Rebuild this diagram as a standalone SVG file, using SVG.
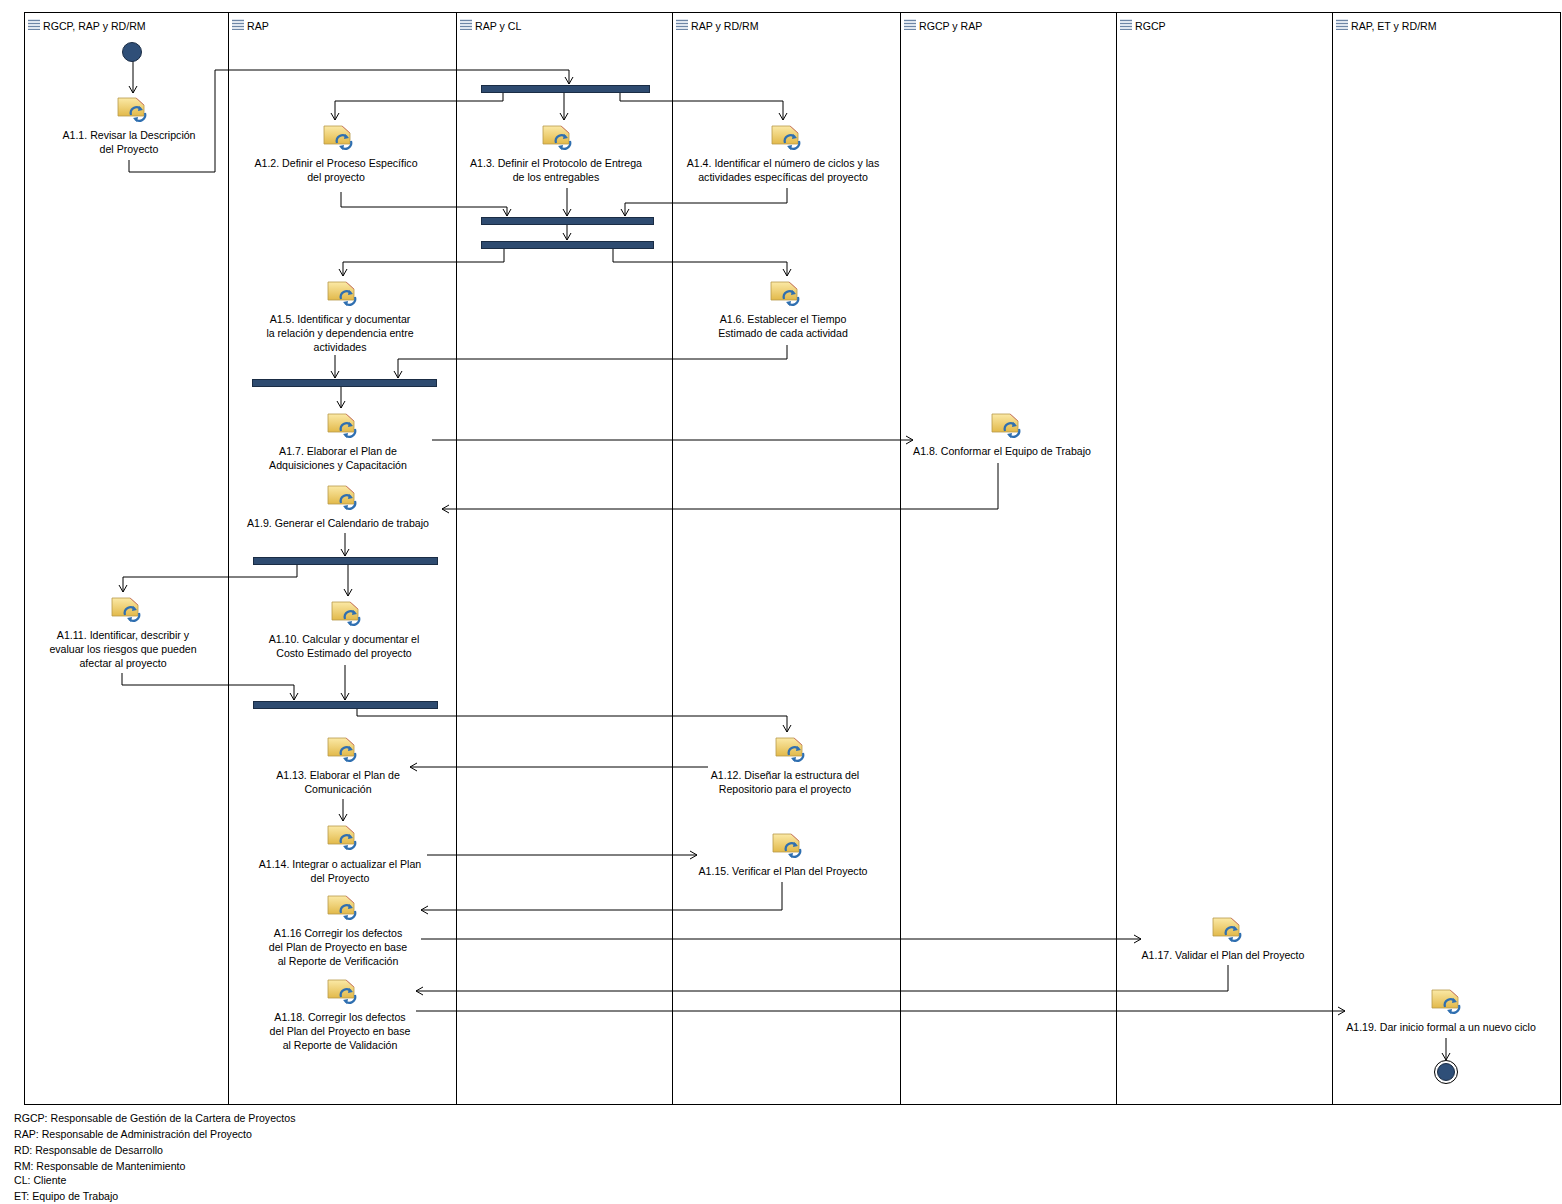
<svg xmlns="http://www.w3.org/2000/svg" width="1562" height="1204" viewBox="0 0 1562 1204">
<style>
text{font-family:"Liberation Sans",Arial,sans-serif;font-size:10.6px;fill:#000}
.t{text-anchor:middle}
.lane{fill:none;stroke:#000;stroke-width:1}
.bar{fill:#2e4b70;stroke:#1a2c44;stroke-width:1}
.c{fill:none;stroke:#000;stroke-width:1;marker-end:url(#ar)}
</style>
<defs>
<marker id="ar" markerWidth="10" markerHeight="10" refX="8" refY="5" orient="auto" markerUnits="userSpaceOnUse">
<path d="M1,1 L8,5 L1,9" fill="none" stroke="#000" stroke-width="1"/>
</marker>
<linearGradient id="fg" x1="0" y1="0" x2="0" y2="1"><stop offset="0" stop-color="#fbe9a6"/><stop offset="1" stop-color="#e2b94a"/></linearGradient>
<g id="act">
<path d="M-14,0 H4 L12,7 V18 H-14 Z" fill="url(#fg)" stroke="#b89a4a" stroke-width="0.8"/>
<path d="M4,0 L12,7" stroke="#d07070" stroke-width="0.8"/>
<path d="M-1,17 A6,6 0 0 1 9,11" fill="none" stroke="#2f6fb0" stroke-width="2.2"/>
<path d="M13,15 A6,6 0 0 1 3,21" fill="none" stroke="#2f6fb0" stroke-width="2.2"/>
<path d="M7,8 L11,12 L6,13 Z" fill="#2f6fb0"/>
<path d="M5,24 L1,20 L6,19 Z" fill="#2f6fb0"/>
</g>
<g id="hi">
<rect x="0" y="0" width="12" height="11" fill="#dfe6ef"/>
<path d="M0,1.5H12M0,4.5H12M0,7.5H12M0,10.5H12" stroke="#6d86a6" stroke-width="1"/>
</g>
</defs>
<rect width="1562" height="1204" fill="#fff"/>
<g id="lanes">
<rect class="lane" x="24.5" y="12.5" width="1536" height="1092"/>
<path class="lane" d="M228.5,12V1104M456.5,12V1104M672.5,12V1104M900.5,12V1104M1116.5,12V1104M1332.5,12V1104"/>
<use href="#hi" x="28" y="19"/><text x="43" y="30">RGCP, RAP y RD/RM</text>
<use href="#hi" x="232" y="19"/><text x="247" y="30">RAP</text>
<use href="#hi" x="460" y="19"/><text x="475" y="30">RAP y CL</text>
<use href="#hi" x="676" y="19"/><text x="691" y="30">RAP y RD/RM</text>
<use href="#hi" x="904" y="19"/><text x="919" y="30">RGCP y RAP</text>
<use href="#hi" x="1120" y="19"/><text x="1135" y="30">RGCP</text>
<use href="#hi" x="1336" y="19"/><text x="1351" y="30">RAP, ET y RD/RM</text>
</g>
<g id="connectors">
<path class="c" d="M133,61V93"/>
<path class="c" d="M129,160V172H215V70H569V84"/>
<path class="c" d="M503,92V101H335V120"/>
<path class="c" d="M564,92V120"/>
<path class="c" d="M620,92V101H783V120"/>
<path class="c" d="M341,192V207H507V216"/>
<path class="c" d="M567,188V216"/>
<path class="c" d="M787,188V203H625V216"/>
<path class="c" d="M567,224V240"/>
<path class="c" d="M504,248V262H343V276"/>
<path class="c" d="M613,248V262H787V276"/>
<path class="c" d="M335,355V378"/>
<path class="c" d="M787,345V359H398V378"/>
<path class="c" d="M341,386V408"/>
<path class="c" d="M432,440H913"/>
<path class="c" d="M998,463V509H442"/>
<path class="c" d="M345,533V556"/>
<path class="c" d="M297,564V577H123V592"/>
<path class="c" d="M348,564V596"/>
<path class="c" d="M122,673V685H294V700"/>
<path class="c" d="M345,665V700"/>
<path class="c" d="M357,708V716H787V732"/>
<path class="c" d="M708,767H410"/>
<path class="c" d="M343,799V821"/>
<path class="c" d="M427,855H697"/>
<path class="c" d="M782,882V910H421"/>
<path class="c" d="M421,939H1141"/>
<path class="c" d="M1228,965V991H416"/>
<path class="c" d="M416,1011H1345"/>
<path class="c" d="M1446,1038V1060"/>
</g>
<g id="start"><circle cx="132" cy="52" r="9.5" fill="#2f4f78" stroke="#1a2c44"/></g>
<g id="end"><circle cx="1446" cy="1072" r="11.5" fill="#fff" stroke="#000"/><circle cx="1446" cy="1072" r="8.5" fill="#2f4f78" stroke="#1a2c44"/></g>
<g id="bars">
<rect class="bar" x="481.5" y="85.5" width="168" height="7"/>
<rect class="bar" x="481.5" y="217.5" width="172" height="7"/>
<rect class="bar" x="481.5" y="241.5" width="172" height="7"/>
<rect class="bar" x="252.5" y="379.5" width="184" height="7"/>
<rect class="bar" x="253.5" y="557.5" width="184" height="7"/>
<rect class="bar" x="253.5" y="701.5" width="184" height="7"/>
</g>
<g id="A1.1"><use href="#act" x="132" y="98"/><text class="t" x="129" y="139">A1.1. Revisar la Descripción</text><text class="t" x="129" y="153">del Proyecto</text></g>
<g id="A1.2"><use href="#act" x="338" y="126"/><text class="t" x="336" y="167">A1.2. Definir el Proceso Específico</text><text class="t" x="336" y="181">del proyecto</text></g>
<g id="A1.3"><use href="#act" x="557" y="126"/><text class="t" x="556" y="167">A1.3. Definir el Protocolo de Entrega</text><text class="t" x="556" y="181">de los entregables</text></g>
<g id="A1.4"><use href="#act" x="786" y="126"/><text class="t" x="783" y="167">A1.4. Identificar el número de ciclos y las</text><text class="t" x="783" y="181">actividades específicas del proyecto</text></g>
<g id="A1.5"><use href="#act" x="342" y="282"/><text class="t" x="340" y="323">A1.5. Identificar y documentar</text><text class="t" x="340" y="337">la relación y dependencia entre</text><text class="t" x="340" y="351">actividades</text></g>
<g id="A1.6"><use href="#act" x="785" y="282"/><text class="t" x="783" y="323">A1.6. Establecer el Tiempo</text><text class="t" x="783" y="337">Estimado de cada actividad</text></g>
<g id="A1.7"><use href="#act" x="342" y="414"/><text class="t" x="338" y="455">A1.7. Elaborar el Plan de</text><text class="t" x="338" y="469">Adquisiciones y Capacitación</text></g>
<g id="A1.8"><use href="#act" x="1006" y="414"/><text class="t" x="1002" y="455">A1.8. Conformar el Equipo de Trabajo</text></g>
<g id="A1.9"><use href="#act" x="342" y="486"/><text class="t" x="338" y="527">A1.9. Generar el Calendario de trabajo</text></g>
<g id="A1.10"><use href="#act" x="346" y="602"/><text class="t" x="344" y="643">A1.10. Calcular y documentar el</text><text class="t" x="344" y="657">Costo Estimado del proyecto</text></g>
<g id="A1.11"><use href="#act" x="126" y="598"/><text class="t" x="123" y="639">A1.11. Identificar, describir y</text><text class="t" x="123" y="653">evaluar los riesgos que pueden</text><text class="t" x="123" y="667">afectar al proyecto</text></g>
<g id="A1.12"><use href="#act" x="790" y="738"/><text class="t" x="785" y="779">A1.12. Diseñar la estructura del</text><text class="t" x="785" y="793">Repositorio para el proyecto</text></g>
<g id="A1.13"><use href="#act" x="342" y="738"/><text class="t" x="338" y="779">A1.13. Elaborar el Plan de</text><text class="t" x="338" y="793">Comunicación</text></g>
<g id="A1.14"><use href="#act" x="342" y="826"/><text class="t" x="340" y="868">A1.14. Integrar o actualizar el Plan</text><text class="t" x="340" y="882">del Proyecto</text></g>
<g id="A1.15"><use href="#act" x="787" y="834"/><text class="t" x="783" y="875">A1.15. Verificar el Plan del Proyecto</text></g>
<g id="A1.16"><use href="#act" x="342" y="896"/><text class="t" x="338" y="937">A1.16 Corregir los defectos</text><text class="t" x="338" y="951">del Plan de Proyecto en base</text><text class="t" x="338" y="965">al Reporte de Verificación</text></g>
<g id="A1.17"><use href="#act" x="1227" y="918"/><text class="t" x="1223" y="959">A1.17. Validar el Plan del Proyecto</text></g>
<g id="A1.18"><use href="#act" x="342" y="980"/><text class="t" x="340" y="1021">A1.18. Corregir los defectos</text><text class="t" x="340" y="1035">del Plan del Proyecto en base</text><text class="t" x="340" y="1049">al Reporte de Validación</text></g>
<g id="A1.19"><use href="#act" x="1446" y="990"/><text class="t" x="1441" y="1031">A1.19. Dar inicio formal a un nuevo ciclo</text></g>
<g id="legend">
<text x="14" y="1122">RGCP: Responsable de Gestión de la Cartera de Proyectos</text>
<text x="14" y="1138">RAP: Responsable de Administración del Proyecto</text>
<text x="14" y="1154">RD: Responsable de Desarrollo</text>
<text x="14" y="1170">RM: Responsable de Mantenimiento</text>
<text x="14" y="1184">CL: Cliente</text>
<text x="14" y="1200">ET: Equipo de Trabajo</text>
</g>
</svg>
